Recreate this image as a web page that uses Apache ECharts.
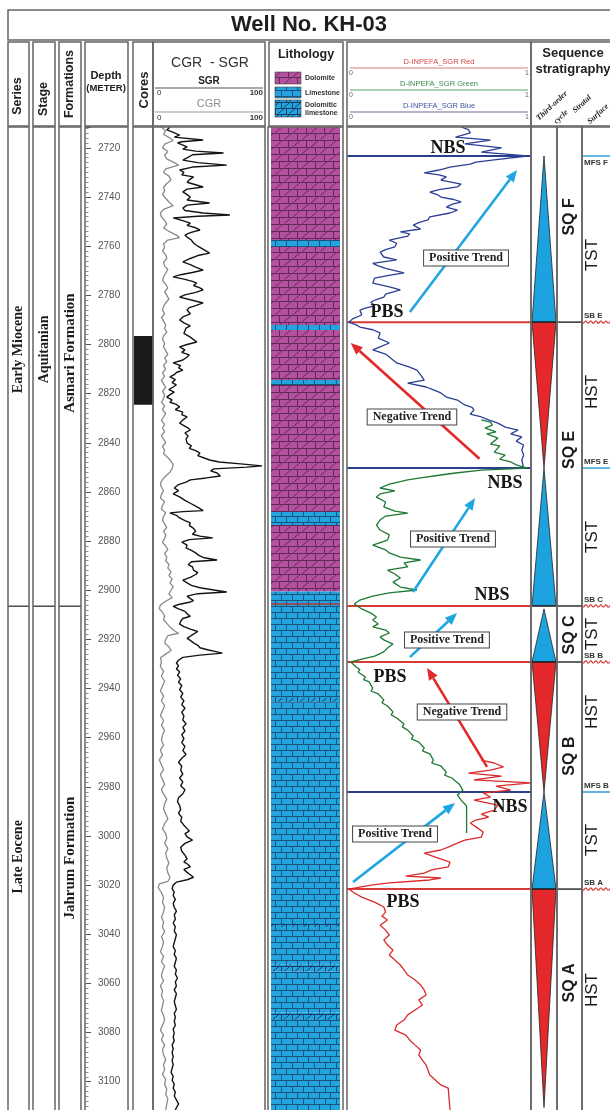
<!DOCTYPE html>
<html>
<head>
<meta charset="utf-8">
<title>Well No. KH-03</title>
<script src="https://cdn.jsdelivr.net/npm/echarts@6.0.0/dist/echarts.min.js"></script>
<style>
  html, body { margin: 0; padding: 0; background: #fff; }
  #chart { width: 610px; height: 1110px; }
</style>
</head>
<body>
<div id="chart"></div>
<script>
const D_TOP = 2711.5;
const D_BOT = 3111.5;

// rock units
const seriesNames = ['Early Miocene', 'Late Eocene'];
const seriesLabelDepth = [2802, 3008.5];
const stageNames = ['Aquitanian'];
const stageLabelDepth = [2802];
const formationNames = ['Asmari Formation', 'Jahrum Formation'];
const formationLabelDepth = [2803.5, 3009];
const unitBoundary = [2906.5];

const coreTop = [2796.5];
const coreBottom = [2824.5];

// [depth m, API 0-100]
const sgrLog = [
  [2711.5,14],[2712.7,11],[2713.5,16],[2714.8,23],[2715.6,18],[2716.8,45],[2717.5,25],[2718.0,21],[2719.6,30],[2720.5,26],
  [2721.3,38],[2722.1,64],[2722.8,35],[2724.1,30],[2725.0,26],[2726.0,40],[2727.0,67],[2727.8,35],[2729.0,23],[2730.0,27],
  [2731.0,25],[2731.8,36],[2733.0,32],[2734.0,30],[2735.0,38],[2735.9,45],[2736.8,30],[2737.9,26],[2739.0,30],[2740.0,33],
  [2741.2,30],[2742.4,51],[2743.3,30],[2744.5,26],[2745.5,28],[2746.5,45],[2747.3,70],[2747.8,40],[2748.5,17],[2749.5,25],
  [2750.6,33],[2751.5,30],[2752.5,38],[2753.4,42],[2754.5,33],[2755.5,28],[2756.3,30],[2757.5,34],[2758.7,36],[2760.0,40],
  [2761.5,46],[2762.8,51],[2763.8,40],[2765.0,33],[2766.4,26],[2767.5,33],[2768.5,38],[2769.7,45],[2770.7,35],[2771.6,24],
  [2772.5,17],[2773.5,28],[2774.3,35],[2775.0,39],[2776.0,36],[2777.0,42],[2777.8,45],[2778.8,38],[2779.8,28],[2780.7,23],
  [2781.8,33],[2783.1,45],[2784.2,38],[2785.0,32],[2786.0,30],[2787.5,33],[2788.8,26],[2790.0,23],[2791.2,27],[2792.4,33],
  [2793.3,29],[2794.1,30],[2795.5,27],[2797.0,33],[2798.0,36],[2799.0,39],[2800.0,30],[2801.0,23],[2802.2,28],[2803.2,25],
  [2804.2,32],[2805.1,30],[2806.3,26],[2807.5,17],[2808.6,24],[2809.5,22],[2810.4,26],[2811.4,20],[2812.3,18],[2813.2,14],
  [2814.3,19],[2815.5,16],[2816.4,20],[2817.3,17],[2818.4,13],[2819.4,18],[2820.4,14],[2821.4,11],[2822.5,16],[2823.5,14],
  [2824.4,20],[2825.4,23],[2826.5,19],[2827.5,26],[2828.5,25],[2829.5,30],[2830.7,26],[2832.0,23],[2833.0,27],[2834.0,31],
  [2834.8,33],[2836.0,28],[2837.2,31],[2838.5,29],[2840.1,30],[2841.2,34],[2842.3,32],[2843.2,38],[2844.2,42],[2845.2,40],
  [2846.2,46],[2847.0,51],[2847.8,60],[2848.6,80],[2849.4,100],[2849.9,86],[2850.6,55],[2851.4,52],[2852.3,58],[2853.5,61],
  [2854.3,48],[2855.1,33],[2856.0,29],[2857.0,22],[2858.4,18],[2859.5,22],[2860.8,17],[2862.0,23],[2863.4,28],[2864.6,33],
  [2865.8,38],[2866.8,42],[2867.6,45],[2868.0,26],[2868.5,14],[2869.5,20],[2870.6,23],[2871.7,28],[2872.6,33],[2873.6,32],
  [2874.8,36],[2876.0,38],[2877.2,35],[2878.0,42],[2878.7,54],[2879.4,32],[2880.4,25],[2881.6,30],[2882.8,29],[2883.8,34],
  [2884.8,38],[2885.8,41],[2886.8,46],[2887.7,58],[2888.4,34],[2889.6,31],[2890.5,35],[2891.8,36],[2892.8,40],[2893.6,38],
  [2894.8,33],[2895.9,26],[2897.0,30],[2898.0,34],[2899.0,42],[2899.9,55],[2900.7,67],[2901.4,40],[2902.4,30],[2903.4,33],
  [2904.2,36],[2904.9,32],[2905.8,22],[2906.6,17],[2907.6,22],[2908.6,28],[2909.6,30],[2910.6,33],[2911.5,26],[2912.6,24],
  [2913.8,23],[2914.8,27],[2915.8,33],[2916.8,40],[2917.6,39],[2918.4,34],[2919.6,30],[2920.4,33],[2921.4,36],[2922.4,40],
  [2923.4,42],[2924.3,50],[2925.1,58],[2925.6,63],[2926.4,42],[2927.3,26],[2928.5,22],[2929.6,20],[2930.8,22],[2932.0,20],
  [2933.2,23],[2934.6,21],[2936.0,24],[2937.4,22],[2938.8,25],[2940.4,23],[2942.0,26],[2943.5,24],[2945.0,27],[2946.5,25],
  [2948.0,28],[2949.6,25],[2951.2,27],[2952.8,26],[2954.3,29],[2955.8,26],[2957.3,28],[2958.8,25],[2960.4,27],[2962.0,25],
  [2963.6,28],[2965.2,26],[2966.8,29],[2968.4,25],[2970.0,22],[2971.6,25],[2973.2,24],[2974.8,26],[2976.4,23],[2978.0,26],
  [2979.6,24],[2981.2,28],[2982.8,26],[2984.4,22],[2986.0,21],[2987.6,23],[2989.2,24],[2990.8,22],[2992.4,25],[2994.0,24],
  [2995.6,27],[2997.0,30],[2998.0,32],[2999.0,28],[3000.4,30],[3001.7,35],[3003.0,28],[3004.6,24],[3006.2,25],[3007.8,28],
  [3009.4,30],[3010.5,27],[3011.6,31],[3012.6,33],[3013.6,27],[3014.8,30],[3015.8,33],[3016.8,36],[3017.8,30],[3018.8,20],
  [3020.0,17],[3021.4,16],[3022.8,18],[3024.2,17],[3025.8,19],[3027.4,17],[3029.0,18],[3030.6,20],[3032.2,18],[3033.8,19],
  [3035.4,17],[3037.0,19],[3038.6,18],[3040.2,20],[3041.8,19],[3043.4,18],[3045.0,17],[3046.6,19],[3048.2,18],[3049.8,20],
  [3051.4,19],[3053.0,18],[3054.6,20],[3056.2,19],[3057.8,21],[3059.4,19],[3061.0,20],[3062.6,18],[3064.2,20],[3065.8,19],
  [3067.4,18],[3069.0,19],[3070.6,20],[3072.2,18],[3073.8,19],[3075.4,18],[3077.0,19],[3078.6,17],[3080.2,18],[3081.8,17],
  [3083.4,18],[3085.0,16],[3086.6,17],[3088.2,16],[3089.8,17],[3091.4,16],[3093.0,17],[3094.6,16],[3096.2,15],[3097.8,17],
  [3099.4,16],[3101.0,18],[3102.6,17],[3104.2,19],[3105.8,18],[3107.4,20],[3109.0,22],[3110.6,20],[3111.5,19]
];

const cgrLog = [
  [2711.5,6],[2713,10],[2714.5,8],[2716,14],[2717,17],[2718.5,9],[2720,7],[2721.5,12],[2723,9],[2724.5,11],
  [2726,18],[2727,22],[2728.5,10],[2730,8],[2731.5,13],[2733,15],[2734.5,11],[2736,8],[2737.5,9],[2739,7],
  [2740.5,10],[2742,13],[2743.5,17],[2745,8],[2746.5,5],[2748,6],[2749.5,9],[2751,11],[2752.5,8],[2754,13],
  [2755.5,20],[2756.5,23],[2757.5,12],[2759,8],[2760.5,9],[2762,7],[2763.5,10],[2765,11],[2766.5,8],[2768,9],
  [2769.5,12],[2771,10],[2772.5,8],[2774,7],[2775.5,10],[2777,12],[2778.5,9],[2780,11],[2781.5,13],[2783,10],
  [2784.5,8],[2786,7],[2787.5,9],[2789,6],[2790.5,8],[2792,10],[2793.5,9],[2795,11],[2796.5,8],[2798,7],
  [2799.5,9],[2801,8],[2802.5,10],[2804,12],[2805.5,9],[2807,11],[2808.5,8],[2810,10],[2811.5,7],[2813,9],
  [2814.5,6],[2816,8],[2817.5,10],[2819,7],[2820.5,9],[2822,8],[2823.5,6],[2825,9],[2826.5,7],[2828,10],
  [2829.5,8],[2831,6],[2832.5,9],[2834,7],[2835.5,9],[2837,6],[2838.5,8],[2840,10],[2841.5,7],[2843,9],
  [2844.5,8],[2846,12],[2847.5,15],[2849,17],[2850.5,16],[2852,14],[2853.5,10],[2855,7],[2856.5,5],[2858,6],
  [2859.5,8],[2861,6],[2862.5,5],[2864,9],[2865.5,7],[2867,6],[2868.5,10],[2870,8],[2871.5,7],[2873,9],
  [2874.5,11],[2876,8],[2877.5,10],[2879,9],[2880.5,7],[2882,10],[2883.5,12],[2885,9],[2886.5,11],[2888,10],
  [2889.5,13],[2891,12],[2892.5,15],[2894,13],[2895.5,16],[2897,14],[2898.5,17],[2900,15],[2901.5,13],[2903,16],
  [2904.5,10],[2906,5],[2907.5,4],[2909,7],[2910.5,9],[2912,8],[2913.5,11],[2915,14],[2916.5,18],[2917.5,22],
  [2918.5,12],[2920,10],[2921.5,9],[2923,13],[2924.5,15],[2926,10],[2927.5,5],[2929,6],[2931,5],[2933,8],
  [2935,6],[2937,9],[2939,7],[2941,5],[2943,8],[2945,6],[2947,9],[2949,7],[2951,5],[2953,8],
  [2955,6],[2957,9],[2959,7],[2961,6],[2963,8],[2965,5],[2967,7],[2969,4],[2971,6],[2973,8],
  [2975,5],[2977,7],[2979,9],[2981,6],[2983,8],[2985,11],[2987,9],[2989,8],[2991,10],[2993,12],
  [2995,9],[2997,7],[2999,10],[3001,11],[3003,9],[3005,12],[3007,10],[3009,11],[3011,13],[3013,11],
  [3015,12],[3017,14],[3018.5,12],[3019.5,4],[3021,3],[3023,6],[3025,8],[3027,7],[3029,9],[3031,8],
  [3033,6],[3035,8],[3037,7],[3039,9],[3041,6],[3043,8],[3045,7],[3047,5],[3049,8],[3051,6],
  [3053,9],[3055,7],[3057,6],[3059,8],[3061,5],[3063,7],[3065,6],[3067,8],[3069,7],[3071,6],
  [3073,8],[3075,9],[3077,7],[3079,5],[3081,8],[3083,6],[3085,9],[3087,7],[3089,8],[3091,10],
  [3093,8],[3095,9],[3097,7],[3099,10],[3101,9],[3103,11],[3105,10],[3107,12],[3109,11],[3111.5,10]
];

const lithoTop = [2711.5, 2757.5, 2760.3, 2792.1, 2794.1, 2814.5, 2816.5, 2868.2, 2873.5, 2900.5, 2943.9, 2945.6, 3035.4, 3037.0, 3052.2, 3055.2, 3071.8, 3074.9];
const lithoBottom = [2757.5, 2760.3, 2792.1, 2794.1, 2814.5, 2816.5, 2868.2, 2873.5, 2900.5, 2943.9, 2945.6, 3035.4, 3037.0, 3052.2, 3055.2, 3071.8, 3074.9, 3111.5];
const lithoType = ['Dolomite', 'Limestone', 'Dolomite', 'Limestone', 'Dolomite', 'Limestone', 'Dolomite', 'Limestone', 'Dolomite',
  'Limestone', 'Dolomitic limestone', 'Limestone', 'Dolomitic limestone', 'Limestone', 'Dolomitic limestone', 'Limestone',
  'Dolomitic limestone', 'Limestone'];
const lithoRedLine = [2905.6];

// D-INPEFA_SGR, [depth m, 0-1]
const inpefaBlue = [
  [2711.5,0.62],[2712.6,0.66],[2713.9,0.67],[2715.6,0.59],[2716.8,0.78],[2718.4,0.64],[2720.0,0.84],[2721.7,0.73],[2722.6,0.88],[2723.3,0.98],
  [2724.9,0.80],[2725.8,0.70],[2726.6,0.67],[2727.8,0.56],[2729.0,0.50],[2730.2,0.42],[2731.0,0.50],[2731.8,0.54],[2733.1,0.51],[2734.7,0.62],
  [2735.9,0.60],[2737.0,0.50],[2738.0,0.45],[2739.0,0.49],[2740.0,0.51],[2741.0,0.58],[2742.0,0.62],[2743.0,0.57],[2744.1,0.54],[2745.3,0.60],
  [2746.5,0.56],[2748.1,0.45],[2749.3,0.44],[2750.4,0.39],[2751.4,0.36],[2753.0,0.40],[2754.2,0.29],[2755.0,0.34],[2755.9,0.33],[2757.5,0.23],
  [2758.8,0.27],[2760.3,0.26],[2761.4,0.21],[2762.4,0.18],[2764.4,0.20],[2765.6,0.27],[2767.0,0.14],[2768.0,0.17],[2769.0,0.21],[2770.9,0.31],
  [2772.0,0.22],[2773.0,0.15],[2775.0,0.14],[2776.6,0.23],[2777.8,0.29],[2779.5,0.21],[2780.7,0.20],[2781.7,0.16],[2782.7,0.13],[2784.3,0.15],
  [2785.2,0.10],[2786.0,0.07],[2788.0,0.08],[2789.6,0.03],[2790.9,0.01],
  [2792.0,0.05],[2792.9,0.07],[2794.0,0.14],[2795.3,0.18],[2797.4,0.17],[2799.4,0.23],[2801.0,0.18],[2802.2,0.14],[2803.9,0.21],[2805.1,0.23],
  [2806.3,0.25],[2807.5,0.27],[2809.2,0.34],[2810.4,0.38],[2812.4,0.40],[2814.5,0.42],[2815.7,0.33],[2817.3,0.43],[2818.5,0.47],[2819.7,0.51],
  [2821.4,0.54],[2822.6,0.60],[2824.6,0.64],[2825.6,0.68],[2826.7,0.69],[2828.3,0.67],[2829.5,0.73],[2830.7,0.77],[2832.0,0.82],[2833.6,0.86],
  [2834.8,0.93],[2836.4,0.89],[2837.6,0.95],[2839.3,0.92],[2840.9,0.96],[2842.9,0.95],[2845.0,0.96],[2847.0,0.95],[2850.3,0.96]
];
const inpefaGreen = [
  [2830.7,0.73],[2831.6,0.78],[2832.8,0.79],[2834.0,0.75],[2835.6,0.81],[2836.4,0.76],[2837.2,0.77],[2838.1,0.82],[2838.9,0.83],[2840.5,0.78],
  [2841.3,0.83],[2842.1,0.84],[2843.8,0.80],[2845.0,0.86],[2846.6,0.83],[2847.8,0.89],[2849.0,0.92],[2850.3,0.98],
  [2851.1,0.73],[2852.3,0.59],[2853.1,0.51],[2854.3,0.40],[2855.1,0.33],[2856.8,0.23],[2858.4,0.18],[2859.6,0.26],[2860.8,0.18],[2862.1,0.16],
  [2864.1,0.21],[2866.1,0.20],[2867.8,0.26],[2868.6,0.33],[2869.8,0.21],[2871.4,0.18],[2873.5,0.16],[2875.5,0.18],[2877.5,0.23],[2879.6,0.22],
  [2881.6,0.14],[2883.6,0.21],[2884.8,0.23],[2886.5,0.29],[2887.7,0.40],[2888.9,0.31],[2890.5,0.33],[2891.8,0.22],[2893.4,0.26],[2895.0,0.29],
  [2896.7,0.25],[2898.7,0.29],[2899.9,0.38],[2901.1,0.23],[2902.4,0.14],[2904.0,0.07],[2905.6,0.04],[2906.4,0.03],
  [2907.6,0.08],[2909.3,0.13],[2910.9,0.16],[2912.1,0.14],[2913.7,0.17],[2914.9,0.14],[2916.2,0.21],[2917.4,0.23],[2919.0,0.18],[2920.2,0.20],
  [2921.9,0.25],[2923.5,0.22],[2925.1,0.20],[2926.8,0.15],[2928.0,0.08],[2929.2,0.02],
  [2931.2,0.05],[2932.3,0.07],[2933.3,0.06],[2935.3,0.10],[2936.4,0.09],[2937.3,0.12],[2939.8,0.14],[2941.0,0.13],[2942.2,0.17],[2944.6,0.20],
  [2945.8,0.19],[2947.1,0.22],[2949.5,0.25],[2950.7,0.24],[2952.0,0.27],[2954.4,0.31],[2955.6,0.30],[2956.9,0.33],[2959.3,0.36],[2960.5,0.35],
  [2961.8,0.39],[2964.2,0.42],[2965.4,0.41],[2966.6,0.45],[2969.1,0.47],[2970.3,0.46],[2971.5,0.51],[2974.0,0.54],[2975.2,0.53],[2976.4,0.57],
  [2978.9,0.61],[2981.3,0.63],[2983.3,0.60],[2985.4,0.62],[2987.8,0.65],[2998.8,0.65]
];
const inpefaRed = [
  [2969.1,0.73],[2970.3,0.80],[2971.9,0.85],[2973.2,0.78],[2974.4,0.66],[2975.6,0.84],[2977.2,0.69],[2978.4,1.00],[2979.7,0.81],[2981.3,0.89],
  [2982.5,0.74],[2984.2,0.78],[2985.4,0.69],[2987.4,0.82],[2989.5,0.80],[2991.1,0.73],[2992.3,0.77],[2993.5,0.70],[2994.7,0.67],[2996.8,0.71],
  [2998.4,0.74],[3000.5,0.73],[3001.7,0.64],[3002.9,0.60],[3004.5,0.55],[3005.7,0.51],[3007.0,0.42],[3008.6,0.48],[3010.6,0.56],[3012.6,0.55],
  [3013.8,0.46],[3015.1,0.42],[3016.3,0.32],[3017.1,0.51],[3017.9,0.45],[3019.1,0.23],[3019.9,0.14],[3020.8,0.07],[3021.6,0.01],
  [3023.2,0.04],[3024.9,0.08],[3026.9,0.15],[3028.9,0.20],[3031.0,0.21],[3032.6,0.19],[3034.2,0.22],[3036.3,0.18],[3038.3,0.21],[3040.3,0.23],
  [3042.3,0.20],[3044.4,0.22],[3046.4,0.25],[3048.4,0.23],[3050.5,0.26],[3052.5,0.29],[3054.5,0.31],[3056.6,0.33],[3058.6,0.37],[3060.6,0.40],
  [3062.7,0.42],[3064.7,0.43],[3066.7,0.39],[3068.8,0.41],[3070.8,0.37],[3072.8,0.33],[3074.9,0.31],[3076.9,0.27],[3079.0,0.26],[3081.0,0.32],
  [3083.0,0.34],[3085.1,0.37],[3087.1,0.40],[3089.1,0.39],[3091.2,0.41],[3093.2,0.43],[3095.2,0.44],[3097.3,0.45],[3099.3,0.48],[3101.3,0.51],
  [3102.6,0.55],[3103.4,0.56],[3111.5,0.56]
];

// sequence stratigraphy
const surfaceDepth = [2723.3, 2790.9, 2850.3, 2906.4, 2929.2, 2982.1, 3021.6];
const surfaceType = ['MFS', 'SB', 'MFS', 'SB', 'SB', 'MFS', 'SB'];
const surfaceName = ['MFS F', 'SB E', 'MFS E', 'SB C', 'SB B', 'MFS B', 'SB A'];

const cycleTop = [2723.3, 2790.9, 2850.3, 2907.6, 2929.2, 2982.1, 3021.6];
const cycleBottom = [2790.9, 2850.3, 2906.4, 2929.2, 2982.1, 3021.6, 3110.5];
const cycleTract = ['TST', 'HST', 'TST', 'TST', 'HST', 'TST', 'HST'];

const sequenceNames = ['SQ F', 'SQ E', 'SQ C', 'SQ B', 'SQ A'];
const sequenceLabelDepth = [2748.1, 2842.9, 2918.2, 2967.5, 3059.8];
const tractNames = ['TST', 'HST', 'TST', 'TST', 'HST', 'TST', 'HST'];
const tractLabelDepth = [2763.6, 2819.3, 2878.3, 2917.8, 2949.5, 3001.6, 3062.7];

// trend arrows [value0, depth0, value1, depth1]
const trendArrows = [
  [0.342, 2786.8, 0.924, 2729.0],
  [0.720, 2846.5, 0.020, 2799.4],
  [0.359, 2900.7, 0.696, 2862.5],
  [0.342, 2927.2, 0.598, 2909.3],
  [0.761, 2971.9, 0.435, 2931.6],
  [0.033, 3018.7, 0.587, 2986.6]
];
const trendSign = ['pos', 'neg', 'pos', 'pos', 'neg', 'pos'];
const noteText = ['NBS', 'PBS', 'Positive Trend', 'Negative Trend', 'NBS', 'Positive Trend', 'NBS',
  'Positive Trend', 'PBS', 'Negative Trend', 'NBS', 'Positive Trend', 'PBS'];
const noteValue = [0.549, 0.217, 0.647, 0.353, 0.859, 0.576, 0.788, 0.543, 0.234, 0.625, 0.886, 0.261, 0.304];
const noteDepth = [2720.0, 2786.8, 2764.8, 2829.5, 2856.4, 2879.1, 2901.9, 2920.2, 2935.3, 2949.5, 2988.2, 2999.2, 3026.9];

const SANS = 'Arial, "Liberation Sans", Helvetica, sans-serif';
const SERIF = '"Times New Roman", "Liberation Serif", "DejaVu Serif", serif';
const BLUE = '#1ca2de';
const RED = '#e5282b';

// lithology fills
function brick(bg, ink, bw, bh, slash) {
  const c = document.createElement('canvas');
  c.width = bw * 2; c.height = bh * 2;
  const g = c.getContext('2d');
  g.fillStyle = bg; g.fillRect(0, 0, c.width, c.height);
  g.strokeStyle = ink; g.lineWidth = 1;
  g.beginPath();
  for (let r = 0; r < 2; r++) {
    const y = r * bh + 0.5;
    g.moveTo(0, y); g.lineTo(c.width, y);
    const off = r ? bw / 2 : 0;
    for (let k = 0; k < 2; k++) {
      const x = Math.round(off + k * bw) + 0.5;
      g.moveTo(x, r * bh); g.lineTo(x, r * bh + bh);
    }
  }
  g.stroke();
  if (slash) {
    g.beginPath();
    for (let r = 0; r < 2; r++) {
      const off = r ? bw / 2 : 0;
      for (let k = -1; k < 2; k++) {
        const x = off + k * bw + bw * 0.3;
        g.moveTo(x, r * bh + bh - 0.5); g.lineTo(x + bh, r * bh + 0.5);
      }
    }
    g.stroke();
  }
  return c;
}
const patterns = {
  'Dolomite': brick('#b5509f', '#5e2a5b', 18, 7, true),
  'Limestone': brick('#22a4de', '#1b527e', 11, 6, false),
  'Dolomitic limestone': brick('#22a4de', '#1b3f66', 11, 6, true)
};
const fillOf = t => ({ image: patterns[t], repeat: 'repeat' });

// tracks
const trackNames = ['series', 'stage', 'formation', 'depth', 'cores', 'gr', 'litho', 'inpefa', 'cycle', 'name', 'tract'];
const trackBox = {
  series: [8, 21], stage: [33, 22], formation: [59, 22], depth: [86, 42], cores: [134, 19],
  gr: [155, 107], litho: [271, 69], inpefa: [347, 184], cycle: [532, 24], name: [557, 25], tract: [582, 40]
};
const G = {};
trackNames.forEach((n, i) => { G[n] = i; });
const xMax = n => (n === 'gr' ? 100 : 1);

function custom(track, depths, renderItem, z) {
  return {
    type: 'custom', xAxisIndex: G[track], yAxisIndex: G[track], silent: true, z: z || 3,
    data: depths.map(d => [0.5, d]), renderItem
  };
}
function rotatedLabels(track, depths, names, font, xv) {
  return custom(track, depths, (p, api) => {
    const c = api.coord([xv == null ? 0.5 : xv, depths[p.dataIndex]]);
    return {
      type: 'text', x: c[0], y: c[1], rotation: Math.PI / 2,
      style: { text: names[p.dataIndex], font, fill: '#1b1b1b', align: 'center', verticalAlign: 'middle' }
    };
  }, 6);
}
function hLines(track, depths, colorOf, width, z) {
  return custom(track, depths, (p, api) => {
    const d = depths[p.dataIndex];
    const a = api.coord([0, d]), b = api.coord([xMax(track), d]);
    return { type: 'line', shape: { x1: a[0], y1: a[1], x2: b[0], y2: b[1] },
      style: { stroke: colorOf(p.dataIndex), lineWidth: width } };
  }, z);
}
function rects(track, tops, bottoms, fillFn) {
  return custom(track, tops, (p, api) => {
    const i = p.dataIndex;
    const a = api.coord([0, tops[i]]), b = api.coord([xMax(track), bottoms[i]]);
    return { type: 'rect', shape: { x: a[0], y: a[1], width: b[0] - a[0], height: b[1] - a[1] },
      style: { fill: fillFn(i) } };
  }, 2);
}
function logLine(track, log, color, width, z) {
  return {
    type: 'line', xAxisIndex: G[track], yAxisIndex: G[track], data: log.map(p => [p[1], p[0]]),
    symbol: 'none', showSymbol: false, silent: true, clip: true, z: z || 4,
    lineStyle: { color, width }
  };
}

const series = [];
series.push(rotatedLabels('series', seriesLabelDepth, seriesNames, 'bold 14px ' + SERIF));
series.push(rotatedLabels('stage', stageLabelDepth, stageNames, 'bold 14px ' + SERIF));
series.push(rotatedLabels('formation', formationLabelDepth, formationNames, 'bold 15px ' + SERIF));
['series', 'stage', 'formation'].forEach(t => series.push(hLines(t, unitBoundary, () => '#333', 1.3)));
series.push(rects('cores', coreTop, coreBottom, () => '#1a1a1a'));
series.push(logLine('gr', cgrLog, '#8a8a8a', 1.3));
series.push(logLine('gr', sgrLog, '#141414', 1.4, 5));
series.push(rects('litho', lithoTop, lithoBottom, i => fillOf(lithoType[i])));
series.push(hLines('litho', lithoRedLine, () => '#b8322f', 1.6));
series.push(hLines('inpefa', surfaceDepth, i => (surfaceType[i] === 'SB' ? '#d83a36' : '#2a3f8f'), 2, 3));
series.push(logLine('inpefa', inpefaBlue, '#2b3f95', 1.3));
series.push(logLine('inpefa', inpefaGreen, '#1d7a34', 1.3));
series.push(logLine('inpefa', inpefaRed, '#d92b2b', 1.3));

// trend arrows
series.push(custom('inpefa', trendArrows.map(a => a[1]), (p, api) => {
  const t = trendArrows[p.dataIndex];
  const a = api.coord([t[0], t[1]]), b = api.coord([t[2], t[3]]);
  const ang = Math.atan2(b[1] - a[1], b[0] - a[0]);
  const L = 12, W = 5;
  const bx = b[0] - L * Math.cos(ang), by = b[1] - L * Math.sin(ang);
  const col = trendSign[p.dataIndex] === 'pos' ? '#1fa6e0' : '#e02a2a';
  return { type: 'group', children: [
    { type: 'line', shape: { x1: a[0], y1: a[1], x2: bx, y2: by }, style: { stroke: col, lineWidth: 2.6 } },
    { type: 'polygon', shape: { points: [[b[0], b[1]],
      [bx + W * Math.sin(ang), by - W * Math.cos(ang)], [bx - W * Math.sin(ang), by + W * Math.cos(ang)]] },
      style: { fill: col } }
  ] };
}, 7));

// notes (NBS / PBS / trend boxes)
series.push(custom('inpefa', noteDepth, (p, api) => {
  const i = p.dataIndex;
  const c = api.coord([noteValue[i], noteDepth[i]]);
  const boxed = noteText[i].indexOf('Trend') >= 0;
  const style = boxed
    ? { text: noteText[i], font: 'bold 12px ' + SERIF, fill: '#222', align: 'center', verticalAlign: 'middle',
        backgroundColor: '#fff', borderColor: '#444', borderWidth: 1, padding: [2, 5, 1, 5] }
    : { text: noteText[i], font: 'bold 18px ' + SERIF, fill: '#161616', align: 'center', verticalAlign: 'middle' };
  return { type: 'text', x: c[0], y: c[1], style };
}, 8));

// third-order cycles
series.push(custom('cycle', cycleTop, (p, api) => {
  const i = p.dataIndex;
  const tl = api.coord([0, cycleTop[i]]), br = api.coord([1, cycleBottom[i]]);
  const cx = (tl[0] + br[0]) / 2;
  const tst = cycleTract[i] === 'TST';
  const pts = tst ? [[cx, tl[1]], [br[0], br[1]], [tl[0], br[1]]] : [[tl[0], tl[1]], [br[0], tl[1]], [cx, br[1]]];
  return { type: 'polygon', shape: { points: pts }, style: { fill: tst ? BLUE : RED, stroke: '#222', lineWidth: 0.8 } };
}, 4));
const sbDepth = surfaceDepth.filter((d, i) => surfaceType[i] === 'SB');
series.push(hLines('cycle', sbDepth, () => '#222', 1.4, 5));
series.push(hLines('name', sbDepth, () => '#222', 1.4, 5));
series.push(rotatedLabels('name', sequenceLabelDepth, sequenceNames, 'bold 16px ' + SANS));
series.push(rotatedLabels('tract', tractLabelDepth, tractNames, '17px ' + SANS, 0.375));

// stratal surfaces
series.push(custom('tract', surfaceDepth, (p, api) => {
  const i = p.dataIndex;
  const a = api.coord([0, surfaceDepth[i]]), b = api.coord([1, surfaceDepth[i]]);
  const kids = [];
  if (surfaceType[i] === 'SB') {
    const pts = [];
    for (let x = a[0]; x <= b[0]; x += 1) pts.push([x, a[1] + 1.2 * Math.sin((x - a[0]) * 1.25)]);
    kids.push({ type: 'polyline', shape: { points: pts }, style: { stroke: '#d8403a', lineWidth: 1.2, fill: 'none' } });
  } else {
    kids.push({ type: 'line', shape: { x1: a[0], y1: a[1], x2: b[0], y2: b[1] }, style: { stroke: '#3ea6dc', lineWidth: 1.6 } });
  }
  kids.push({ type: 'text', x: a[0] + 2, y: a[1] + (i === 0 ? 7 : -6),
    style: { text: surfaceName[i], font: 'bold 8px ' + SANS, fill: '#333', align: 'left', verticalAlign: 'middle' } });
  return { type: 'group', children: kids };
}, 5));

// frames and header
const gfx = [];
const frame = (x0, y0, x1, y1) => gfx.push({ type: 'rect', z: 100, silent: true,
  shape: { x: x0, y: y0, width: x1 - x0, height: y1 - y0 }, style: { fill: 'none', stroke: '#646464', lineWidth: 1.5 } });
const text = (x, y, s, font, fill, rot, align) => gfx.push({ type: 'text', z: 101, silent: true, x, y, rotation: rot || 0,
  style: { text: s, font, fill: fill || '#222', align: align || 'center', verticalAlign: 'middle' } });
const rule = (x1, y1, x2, y2, stroke, w) => gfx.push({ type: 'line', z: 101, silent: true,
  shape: { x1, y1, x2, y2 }, style: { stroke, lineWidth: w || 1 } });

frame(8, 10, 640, 40);
text(309, 25, 'Well No. KH-03', 'bold 22px ' + SANS, '#1e1e1e');

[[8, 29], [33, 55], [59, 81], [85, 128], [133, 153], [153, 265], [269, 343], [347, 531], [531, 640]]
  .forEach(c => frame(c[0], 42, c[1], 126));
[[8, 29], [33, 55], [59, 81], [85, 128], [133, 153], [153, 265], [268, 343], [347, 531], [531, 557], [557, 582], [582, 640]]
  .forEach(c => frame(c[0], 127, c[1], 1130));

const R = Math.PI / 2;
text(18, 96, 'Series', 'bold 12.5px ' + SANS, '#222', R);
text(44, 99, 'Stage', 'bold 12.5px ' + SANS, '#222', R);
text(70, 84, 'Formations', 'bold 12.5px ' + SANS, '#222', R);
text(106, 76, 'Depth', 'bold 11px ' + SANS);
text(106, 88, '(METER)', 'bold 9.5px ' + SANS);
text(144, 90, 'Cores', 'bold 13px ' + SANS, '#222', R);

text(210, 63, 'CGR  - SGR', '14px ' + SANS, '#333');
text(209, 81, 'SGR', 'bold 10px ' + SANS, '#222');
rule(155, 88, 263, 88, '#555', 1.2);
text(157, 93, '0', '8px ' + SANS, '#333', 0, 'left');
text(263, 93, '100', 'bold 8px ' + SANS, '#333', 0, 'right');
text(209, 104, 'CGR', '11px ' + SANS, '#8c8c8c');
rule(155, 112, 263, 112, '#999', 1.2);
text(157, 118, '0', '8px ' + SANS, '#333', 0, 'left');
text(263, 118, '100', 'bold 8px ' + SANS, '#333', 0, 'right');

text(306, 55, 'Lithology', 'bold 12.5px ' + SANS, '#222');
[['Dolomite', 72, 12], ['Limestone', 87, 11], ['Dolomitic limestone', 100, 17]].forEach(s => gfx.push({
  type: 'rect', z: 101, silent: true, shape: { x: 275, y: s[1], width: 26, height: s[2] },
  style: { fill: fillOf(s[0]), stroke: '#444', lineWidth: 0.6 } }));
text(305, 78, 'Dolomite', 'bold 7px ' + SANS, '#333', 0, 'left');
text(305, 93, 'Limestone', 'bold 7px ' + SANS, '#333', 0, 'left');
text(305, 105, 'Dolomitic', 'bold 7px ' + SANS, '#333', 0, 'left');
text(305, 113, 'limestone', 'bold 7px ' + SANS, '#333', 0, 'left');

[['D-INPEFA_SGR Red', '#d24848', '#d98080', 62], ['D-INPEFA_SGR Green', '#3a8a50', '#5a9e6c', 84],
 ['D-INPEFA_SGR Blue', '#4054a0', '#6a6f90', 106]].forEach(h => {
  text(439, h[3], h[0], '7.5px ' + SANS, h[1]);
  rule(350, h[3] + 6, 528, h[3] + 6, h[2], 1.2);
  text(349, h[3] + 11, '0', '7px ' + SANS, '#666', 0, 'left');
  text(529, h[3] + 11, '1', '7px ' + SANS, '#666', 0, 'right');
});

text(573, 53, 'Sequence', 'bold 13px ' + SANS, '#222');
text(573, 69, 'stratigraphy', 'bold 13px ' + SANS, '#222');
const tilt = 0.75;
text(552, 106, 'Third-order', 'italic bold 8px ' + SERIF, '#222', tilt);
text(561, 117, 'cycle', 'italic bold 8px ' + SERIF, '#222', tilt);
text(582, 104, 'Stratal', 'italic bold 8px ' + SERIF, '#222', tilt);
text(598, 114, 'Surface', 'italic bold 8px ' + SERIF, '#222', tilt);

const option = {
  animation: false,
  backgroundColor: '#fff',
  grid: trackNames.map(n => ({ left: trackBox[n][0], width: trackBox[n][1], top: 127, height: 983 })),
  xAxis: trackNames.map((n, i) => ({ type: 'value', gridIndex: i, min: 0, max: xMax(n), show: false })),
  yAxis: trackNames.map((n, i) => n === 'depth' ? {
    type: 'value', gridIndex: i, inverse: true, min: D_TOP, max: D_BOT, splitNumber: 20, position: 'left',
    axisLine: { show: false },
    axisTick: { show: true, inside: true, length: 5, lineStyle: { color: '#555', width: 1 } },
    minorTick: { show: true, splitNumber: 10, length: 2.5, lineStyle: { color: '#888' } },
    axisLabel: { inside: true, margin: 12, color: '#555', fontSize: 10, fontFamily: SANS,
      showMinLabel: false, showMaxLabel: false, formatter: v => String(Math.round(v)) },
    splitLine: { show: false }
  } : { type: 'value', gridIndex: i, inverse: true, min: D_TOP, max: D_BOT, show: false }),
  graphic: { elements: gfx },
  series
};

const chart = echarts.init(document.getElementById('chart'), null, { renderer: 'canvas' });
chart.setOption(option);
</script>
</body>
</html>
